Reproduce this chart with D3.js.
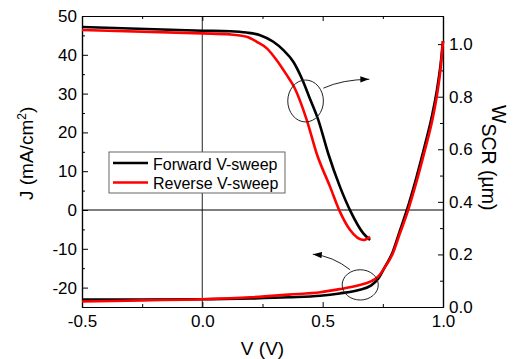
<!DOCTYPE html>
<html>
<head>
<meta charset="utf-8">
<script src="https://cdn.jsdelivr.net/npm/d3@7"></script>
<style>
  body { margin: 0; background: #fff; }
  text { font-family: "Liberation Sans", Arial, sans-serif; fill: #000; }
</style>
</head>
<body>
<div id="chart"></div>
<script>
// J-V curves (left axis, mA/cm2)
var jvVoltage = [-0.5, -0.25, 0, 0.2, 0.36, 0.49, 0.57, 0.65, 0.70, 0.73, 0.76, 0.79, 0.82, 0.85, 0.89, 0.925, 0.955, 0.975, 0.99, 1.0];
var jForward = [-23.1, -23.1, -23.0, -22.8, -22.5, -22.1, -21.5, -20.6, -19.5, -17.8, -14.5, -11.0, -5.5, 0, 8.5, 16.8, 24.5, 31.0, 37.5, 43.5];
var jReverse = [-23.6, -23.3, -23.0, -22.5, -21.8, -21.2, -20.4, -19.4, -18.4, -17.2, -14.6, -11.4, -6.2, -1.0, 7.3, 15.5, 23.0, 29.6, 36.5, 43.5];

// space charge region width (right axis, um)
var wForwardV = [-0.5, 0, 0.115, 0.184, 0.24, 0.295, 0.337, 0.378, 0.413, 0.445, 0.482, 0.523, 0.572, 0.617, 0.669, 0.697];
var wForward = [1.065, 1.051, 1.049, 1.044, 1.034, 1.009, 0.977, 0.933, 0.870, 0.797, 0.711, 0.584, 0.457, 0.362, 0.280, 0.255];
var wReverseV = [-0.5, 0, 0.115, 0.184, 0.226, 0.268, 0.309, 0.351, 0.382, 0.434, 0.475, 0.531, 0.572, 0.614, 0.669, 0.697];
var wReverse = [1.054, 1.041, 1.037, 1.028, 1.009, 0.984, 0.939, 0.882, 0.836, 0.711, 0.584, 0.457, 0.362, 0.293, 0.255, 0.267];

var seriesNames = ["Forward V-sweep", "Reverse V-sweep"];
var seriesColors = ["#000000", "#ff0000"];

var xTicks = [-0.5, 0, 0.5, 1.0];
var xMinor = [-0.25, 0.25, 0.75];
var jTicks = [-20, -10, 0, 10, 20, 30, 40, 50];
var jMinor = [-15, -5, 5, 15, 25, 35, 45];
var wTicks = [0, 0.2, 0.4, 0.6, 0.8, 1.0];
var wMinor = [0.1, 0.3, 0.5, 0.7, 0.9];

var margin = { top: 16, right: 70, bottom: 52, left: 82 },
  width = 513 - margin.left - margin.right,
  height = 359 - margin.top - margin.bottom;

var x = d3.scaleLinear().domain([-0.5, 1.0]).range([0, width]);
var yJ = d3.scaleLinear().domain([-25, 50]).range([height, 0]);
var yW = d3.scaleLinear().domain([0, 1.107]).range([height, 0]);

var svg = d3.select("#chart").append("svg")
  .attr("width", 513)
  .attr("height", 359)
  .append("g")
  .attr("transform", "translate(" + margin.left + "," + margin.top + ")");

// reference lines at V = 0 and J = 0
svg.append("line")
  .attr("x1", x(0)).attr("x2", x(0))
  .attr("y1", 0).attr("y2", height)
  .style("stroke", "#555").style("stroke-width", 1.3);
svg.append("line")
  .attr("x1", 0).attr("x2", width)
  .attr("y1", yJ(0)).attr("y2", yJ(0))
  .style("stroke", "#000").style("stroke-width", 1);

function styleAxis(g) {
  g.selectAll("path").style("stroke", "#000").style("stroke-width", 1.2);
  g.selectAll("line").style("stroke", "#000").style("stroke-width", 1);
  g.selectAll("text").style("font-size", "17px")
    .style("font-family", '"Liberation Sans", Arial, sans-serif');
}

var fmt1 = function (d) { return d.toFixed(1); };
var fmt0 = function (d) { return String(d); };

// bottom axis
svg.append("g")
  .attr("transform", "translate(0," + height + ")")
  .call(d3.axisBottom(x).tickValues(xTicks).tickSize(-5).tickSizeOuter(0).tickPadding(8).tickFormat(fmt1))
  .call(styleAxis);
svg.append("g")
  .attr("transform", "translate(0," + height + ")")
  .call(d3.axisBottom(x).tickValues(xMinor).tickSize(-3).tickSizeOuter(0).tickFormat(""))
  .call(styleAxis);

// top axis
svg.append("g")
  .call(d3.axisTop(x).tickValues(xTicks).tickSize(-5).tickSizeOuter(0).tickFormat(""))
  .call(styleAxis);
svg.append("g")
  .call(d3.axisTop(x).tickValues(xMinor).tickSize(-3).tickSizeOuter(0).tickFormat(""))
  .call(styleAxis);

// left axis (J)
svg.append("g")
  .call(d3.axisLeft(yJ).tickValues(jTicks).tickSize(-6).tickSizeOuter(0).tickPadding(5).tickFormat(fmt0))
  .call(styleAxis);
svg.append("g")
  .call(d3.axisLeft(yJ).tickValues(jMinor).tickSize(-3).tickSizeOuter(0).tickFormat(""))
  .call(styleAxis);

// right axis (W_SCR)
svg.append("g")
  .attr("transform", "translate(" + width + ",0)")
  .call(d3.axisRight(yW).tickValues(wTicks).tickSize(-5).tickSizeOuter(0).tickPadding(6).tickFormat(fmt1))
  .call(styleAxis);
svg.append("g")
  .attr("transform", "translate(" + width + ",0)")
  .call(d3.axisRight(yW).tickValues(wMinor).tickSize(-3).tickSizeOuter(0).tickFormat(""))
  .call(styleAxis);

// curves
var lineJ = d3.line()
  .x(function (d) { return x(d[0]); })
  .y(function (d) { return yJ(d[1]); })
  .curve(d3.curveMonotoneX);
var lineW = d3.line()
  .x(function (d) { return x(d[0]); })
  .y(function (d) { return yW(d[1]); })
  .curve(d3.curveMonotoneX);

var jSeries = [jForward, jReverse];
var wSeries = [[wForwardV, wForward], [wReverseV, wReverse]];

jSeries.forEach(function (vals, i) {
  svg.append("path")
    .datum(jvVoltage.map(function (v, k) { return [v, vals[k]]; }))
    .attr("d", lineJ)
    .style("fill", "none")
    .style("stroke", seriesColors[i])
    .style("stroke-width", 2.6);
});
wSeries.forEach(function (s, i) {
  svg.append("path")
    .datum(s[0].map(function (v, k) { return [v, s[1][k]]; }))
    .attr("d", lineW)
    .style("fill", "none")
    .style("stroke", seriesColors[i])
    .style("stroke-width", 2.6);
});

// annotation ellipses and arrows, placed in (V, J) data units
svg.append("defs").append("marker")
  .attr("id", "arrow")
  .attr("viewBox", "0 0 10 10")
  .attr("refX", 10).attr("refY", 5)
  .attr("markerWidth", 9).attr("markerHeight", 9)
  .attr("markerUnits", "userSpaceOnUse")
  .attr("orient", "auto")
  .append("path")
  .attr("d", "M0,1.5L10,5L0,8.5Z")
  .style("fill", "#000");

var ellipses = [
  { v: 0.429, j: 28.1, rv: 0.074, rj: 5.4 },
  { v: 0.656, j: -19.3, rv: 0.075, rj: 3.9 }
];
var arrows = [
  [[0.503, 31.4], [0.580, 33.6], [0.694, 33.7]],
  [[0.614, -15.4], [0.543, -11.9], [0.459, -11.4]]
];

svg.selectAll(".ell")
  .data(ellipses)
  .enter().append("ellipse")
  .attr("class", "ell")
  .attr("cx", function (d) { return x(d.v); })
  .attr("cy", function (d) { return yJ(d.j); })
  .attr("rx", function (d) { return x(d.v + d.rv) - x(d.v); })
  .attr("ry", function (d) { return yJ(d.j - d.rj) - yJ(d.j); })
  .style("fill", "none")
  .style("stroke", "#222")
  .style("stroke-width", 1);

svg.selectAll(".arr")
  .data(arrows)
  .enter().append("path")
  .attr("class", "arr")
  .attr("d", function (p) {
    return "M" + x(p[0][0]) + "," + yJ(p[0][1]) +
      "Q" + x(p[1][0]) + "," + yJ(p[1][1]) + " " + x(p[2][0]) + "," + yJ(p[2][1]);
  })
  .style("fill", "none")
  .style("stroke", "#222")
  .style("stroke-width", 1)
  .attr("marker-end", "url(#arrow)");

// legend
var legend = svg.append("g").attr("transform", "translate(27,136)");
legend.append("rect")
  .attr("width", 176).attr("height", 41)
  .style("fill", "#fff")
  .style("stroke", "#666")
  .style("stroke-width", 1);
seriesNames.forEach(function (name, i) {
  legend.append("line")
    .attr("x1", 4).attr("x2", 39)
    .attr("y1", 11 + i * 19.5).attr("y2", 11 + i * 19.5)
    .style("stroke", seriesColors[i])
    .style("stroke-width", 2.6);
  legend.append("text")
    .attr("x", 44).attr("y", 17.5 + i * 19.5)
    .style("font-size", "16px")
    .text(name);
});

// axis titles
svg.append("text")
  .attr("x", width / 2)
  .attr("y", height + 48)
  .attr("text-anchor", "middle")
  .style("font-size", "19px")
  .text("V (V)");

var jLabel = svg.append("text")
  .attr("transform", "translate(" + (33 - margin.left) + "," + (200 - margin.top) + ") rotate(-90)")
  .style("font-size", "19px");
jLabel.append("tspan").text("J (mA/cm");
jLabel.append("tspan").attr("dy", -7).style("font-size", "12px").text("2");
jLabel.append("tspan").attr("dy", 7).text(")");

var wLabel = svg.append("text")
  .attr("transform", "translate(" + (492 - margin.left) + "," + (105 - margin.top) + ") rotate(90)")
  .style("font-size", "19.5px");
wLabel.append("tspan").text("W");
wLabel.append("tspan").attr("dy", 10).text("SCR (\u00b5m)");
</script>
</body>
</html>
